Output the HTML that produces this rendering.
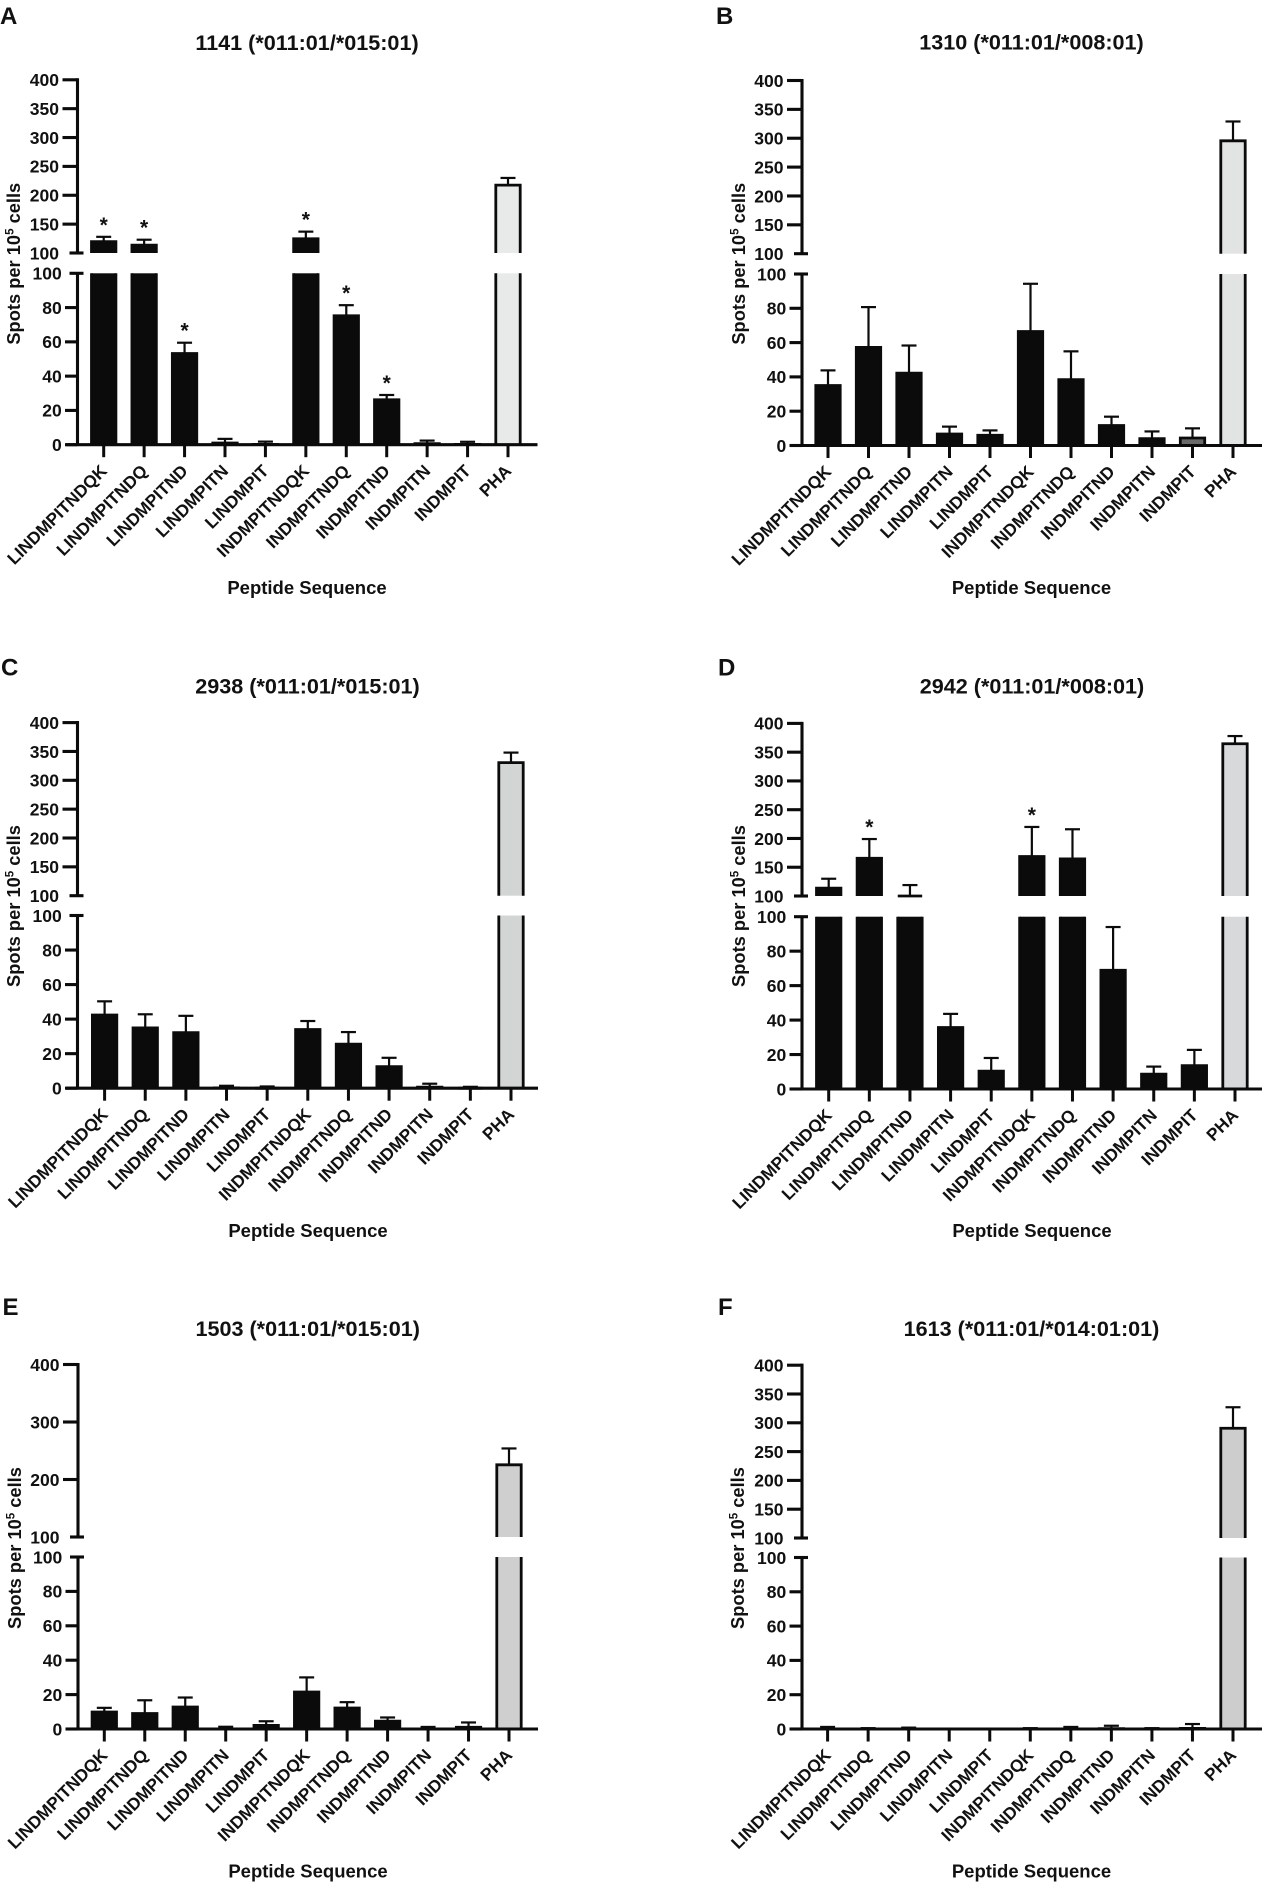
<!DOCTYPE html>
<html lang="en">
<head>
<meta charset="utf-8">
<title>Spots per 10^5 cells by peptide sequence</title>
<style>
html,body{margin:0;padding:0;background:#fff;}
svg{display:block;font-family:"Liberation Sans",Arial,sans-serif;font-weight:bold;fill:#111;filter:blur(0.3px);}
.letter{font-size:24px;}
.title{font-size:21.6px;text-anchor:middle;}
.xtitle{font-size:18.5px;text-anchor:middle;}
.ytitle{font-size:18.3px;text-anchor:middle;}
.sup{font-size:11.5px;}
.tick{font-size:17.5px;text-anchor:end;}
.cat{font-size:17.3px;text-anchor:end;}
.star{font-size:21px;text-anchor:middle;}
</style>
</head>
<body>
<svg id="figure" xmlns="http://www.w3.org/2000/svg" width="1262" height="1882" viewBox="0 0 1262 1882">
  <rect x="0" y="0" width="1262" height="1882" fill="#fff"/>

  <g id="panel-A">
    <text class="letter" x="0" y="24">A</text>
    <text class="title" x="307" y="50">1141 (*011:01/*015:01)</text>
    <text class="xtitle" x="307" y="594">Peptide Sequence</text>
    <text class="ytitle" transform="translate(20 263.7) rotate(-90)">Spots per 10<tspan class="sup" dy="-6.5">5</tspan><tspan dy="6.5"> cells</tspan></text>
  </g>
  <g id="panel-B">
    <text class="letter" x="716" y="24">B</text>
    <text class="title" x="1031.5" y="49.5">1310 (*011:01/*008:01)</text>
    <text class="xtitle" x="1031.5" y="594">Peptide Sequence</text>
    <text class="ytitle" transform="translate(745 263.7) rotate(-90)">Spots per 10<tspan class="sup" dy="-6.5">5</tspan><tspan dy="6.5"> cells</tspan></text>
  </g>
  <g id="panel-C">
    <text class="letter" x="1" y="675.5">C</text>
    <text class="title" x="307.5" y="693.5">2938 (*011:01/*015:01)</text>
    <text class="xtitle" x="308" y="1237">Peptide Sequence</text>
    <text class="ytitle" transform="translate(20 906) rotate(-90)">Spots per 10<tspan class="sup" dy="-6.5">5</tspan><tspan dy="6.5"> cells</tspan></text>
  </g>
  <g id="panel-D">
    <text class="letter" x="718" y="675.5">D</text>
    <text class="title" x="1032" y="693.5">2942 (*011:01/*008:01)</text>
    <text class="xtitle" x="1032" y="1237">Peptide Sequence</text>
    <text class="ytitle" transform="translate(745 906) rotate(-90)">Spots per 10<tspan class="sup" dy="-6.5">5</tspan><tspan dy="6.5"> cells</tspan></text>
  </g>
  <g id="panel-E">
    <text class="letter" x="2.5" y="1315">E</text>
    <text class="title" x="307.7" y="1336">1503 (*011:01/*015:01)</text>
    <text class="xtitle" x="308" y="1877.5">Peptide Sequence</text>
    <text class="ytitle" transform="translate(21 1548) rotate(-90)">Spots per 10<tspan class="sup" dy="-6.5">5</tspan><tspan dy="6.5"> cells</tspan></text>
  </g>
  <g id="panel-F">
    <text class="letter" x="718" y="1315">F</text>
    <text class="title" x="1031.5" y="1336">1613 (*011:01/*014:01:01)</text>
    <text class="xtitle" x="1031.5" y="1877.5">Peptide Sequence</text>
    <text class="ytitle" transform="translate(744 1548) rotate(-90)">Spots per 10<tspan class="sup" dy="-6.5">5</tspan><tspan dy="6.5"> cells</tspan></text>
  </g>
</svg>

<script>
// ---------- data ----------
const categories = ["LINDMPITNDQK","LINDMPITNDQ","LINDMPITND","LINDMPITN","LINDMPIT","INDMPITNDQK","INDMPITNDQ","INDMPITND","INDMPITN","INDMPIT","PHA"];

const lowerTicks = [0,20,40,60,80,100];
const upperTicksFine = [100,150,200,250,300,350,400];
const upperTicksCoarse = [100,200,300,400];

const meansA = [122,116,54,1.8,1,127,76,27,1.4,1,220];
const errorTopsA = [128,123,59.5,3.4,1.8,137,81.4,29,2.4,1.7,230];
const starredA = ["LINDMPITNDQK","LINDMPITNDQ","LINDMPITND","INDMPITNDQK","INDMPITNDQ","INDMPITND"];

const meansB = [35.8,58,43,7.5,6.8,67.3,39.2,12.5,4.8,5.2,298];
const errorTopsB = [43.8,80.7,58.3,11,8.8,94.3,54.9,16.8,8.2,10,329];
const starredB = [];

const meansC = [43.2,35.7,33,1,0.6,34.8,26.3,13.3,1.4,0.4,333];
const errorTopsC = [50.3,42.8,41.9,1.4,1,38.9,32.5,17.6,2.6,0.8,348];
const starredC = [];

const meansD = [116,168,101,36.5,11.2,171,167,69.7,9.4,14.4,367];
const errorTopsD = [130,199,119,43.6,18,220,216,94,13,22.7,378];
const starredD = ["LINDMPITNDQ","INDMPITNDQK"];

const meansE = [10.7,9.8,13.6,0.9,2.9,22.3,13,5.4,0.7,1.8,228];
const errorTopsE = [12.3,16.7,18.3,1.3,4.5,30,15.6,6.7,1.2,3.8,254];
const starredE = [];

const meansF = [0.8,0.3,0.5,0.1,0.1,0.3,0.7,1,0.3,1.2,293];
const errorTopsF = [1.2,0.5,0.8,0.2,0.2,0.5,1.2,1.9,0.5,2.9,327];
const starredF = [];

// ---------- layout (geometry only) ----------
const layouts = {
  A:{axisX:77.5,first:103.7,last:508,end:537.5,yTop:79.8,yBreakU:253,yBreakL:273.3,yZero:444.7,pha:"#e8e9e9"},
  B:{axisX:802,first:828,last:1233,end:1262,yTop:80.5,yBreakU:253.7,yBreakL:274,yZero:445.5,pha:"#e2e3e3"},
  C:{axisX:77.5,first:104.6,last:511,end:538,yTop:722.6,yBreakU:895.7,yBreakL:915.5,yZero:1088.2,pha:"#d3d4d4"},
  D:{axisX:802,first:828.7,last:1235,end:1262,yTop:723.4,yBreakU:896,yBreakL:916.7,yZero:1089,pha:"#d8d9da"},
  E:{axisX:78,first:104.3,last:509,end:538,yTop:1364.5,yBreakU:1537,yBreakL:1557,yZero:1729,pha:"#cfcfcf"},
  F:{axisX:802,first:827.6,last:1233,end:1262,yTop:1365.2,yBreakU:1538,yBreakL:1557.5,yZero:1729,pha:"#cdcdcd"}
};

const INK = "#0b0b0b";
const SVGNS = "http://www.w3.org/2000/svg";
const AXIS_W = 3.1;
const BAR_STROKE = 2.8;
const BAR_W = 24.4;
const CAP_HALF = 7.5;

function mk(tag, attrs, parent){
  const el = document.createElementNS(SVGNS, tag);
  for (const k in attrs) el.setAttribute(k, attrs[k]);
  parent.appendChild(el);
  return el;
}

function xScale(L, index){
  return L.first + (L.last - L.first) * index / (categories.length - 1);
}
function yScale(L, value){
  if (value <= 100) return L.yZero + (L.yBreakL - L.yZero) * value / 100;
  return L.yBreakU + (L.yTop - L.yBreakU) * (value - 100) / 300;
}

function drawLine(x1,y1,x2,y2,w,parent){
  return mk("line",{x1:x1,y1:y1,x2:x2,y2:y2,stroke:INK,"stroke-width":w},parent);
}

function drawBar(L, id, i, mean, errTop, starred, parent){
  const cat = categories[i];
  const cx = xScale(L, i);
  const x0 = cx - BAR_W/2, x1 = cx + BAR_W/2;
  const isControl = cat === "PHA";
  const fill = isControl ? L.pha : ((id === "B" && cat === "INDMPIT") ? "#6a6a6a" : INK);
  const group = mk("g",{},parent);
  
  

  const yv = yScale(L, mean);
  // the value sits on the outer edge of the bar outline
  const yEdge = mean > 100
    ? Math.min(yv + BAR_STROKE/2, L.yBreakU)
    : Math.min(yv + BAR_STROKE/2, L.yZero);
  const yLowTop = mean > 100 ? L.yBreakL : yEdge;

  const lowFill = mk("rect",{x:x0,y:yLowTop,width:BAR_W,height:Math.max(0,L.yZero-yLowTop),fill:fill},group);
  
  

  const lowPath = mean > 100
    ? "M"+x0+" "+L.yZero+"V"+L.yBreakL+"M"+x1+" "+L.yBreakL+"V"+L.yZero
    : "M"+x0+" "+L.yZero+"V"+yEdge+"H"+x1+"V"+L.yZero;
  const low = mk("path",{d:lowPath,fill:"none",stroke:INK,"stroke-width":BAR_STROKE},group);
  
  

  if (mean > 100){
    const upFill = mk("rect",{x:x0,y:yEdge,width:BAR_W,height:Math.max(0,L.yBreakU-yEdge),fill:fill},group);
    
    
    const up = mk("path",{d:"M"+x0+" "+L.yBreakU+"V"+yEdge+"H"+x1+"V"+L.yBreakU,fill:"none",stroke:INK,"stroke-width":BAR_STROKE},group);
    
    
  }

  const yErr = yScale(L, errTop);
  const stem = drawLine(cx,yEdge,cx,yErr,2.2,group);
  
  
  const cap = drawLine(cx-CAP_HALF,yErr,cx+CAP_HALF,yErr,2.2,group);
  
  

  if (starred){
    const s = mk("text",{class:"star",x:cx,y:yErr-5},group);
    s.textContent = "*";
    
    
  }
}

function drawPanel(id, means, errorTops, starred, upperTicks){
  const L = layouts[id];
  const root = document.getElementById("panel-" + id);

  // bars first, axes on top
  categories.forEach(function(cat,i){
    drawBar(L, id, i, means[i], errorTops[i], starred.indexOf(cat) >= 0, root);
  });

  const axisU = drawLine(L.axisX,L.yTop-AXIS_W/2,L.axisX,L.yBreakU,AXIS_W,root);
  
  
  const axisL = drawLine(L.axisX,L.yBreakL,L.axisX,L.yZero,AXIS_W,root);
  
  
  const axisX = drawLine(L.axisX-11.5,L.yZero,L.end,L.yZero,AXIS_W,root);
  
  

  upperTicks.forEach(function(v){
    const y = yScale(L, v + (v === 100 ? 0.0001 : 0));
    const isBreak = v === 100;
    const t = drawLine(isBreak ? L.axisX-8 : L.axisX-15, y, isBreak ? L.axisX+6 : L.axisX, y, AXIS_W, root);
    
    
    const lab = mk("text",{class:"tick",x:L.axisX-18.5,y:y+6.3},root);
    lab.textContent = String(v);
    
    
  });

  lowerTicks.forEach(function(v){
    const y = yScale(L, v);
    const isBreak = v === 100;
    const t = drawLine(isBreak ? L.axisX-8 : L.axisX-12.5, y, isBreak ? L.axisX+6 : L.axisX, y, AXIS_W, root);
    
    
    const lab = mk("text",{class:"tick",x:L.axisX-15.8,y:y+6.3},root);
    lab.textContent = String(v);
    
    
  });

  categories.forEach(function(cat,i){
    const cx = xScale(L, i);
    const t = drawLine(cx,L.yZero,cx,L.yZero+12.5,3,root);
    
    
    const ax = cx + 4.3, ay = L.yZero + 27.3;
    const lab = mk("text",{class:"cat",transform:"translate("+ax+" "+ay+") rotate(-45)"},root);
    lab.textContent = cat;
    
    
  });
}

drawPanel("A", meansA, errorTopsA, starredA, upperTicksFine);
drawPanel("B", meansB, errorTopsB, starredB, upperTicksFine);
drawPanel("C", meansC, errorTopsC, starredC, upperTicksFine);
drawPanel("D", meansD, errorTopsD, starredD, upperTicksFine);
drawPanel("E", meansE, errorTopsE, starredE, upperTicksCoarse);
drawPanel("F", meansF, errorTopsF, starredF, upperTicksFine);
</script>
</body>
</html>
